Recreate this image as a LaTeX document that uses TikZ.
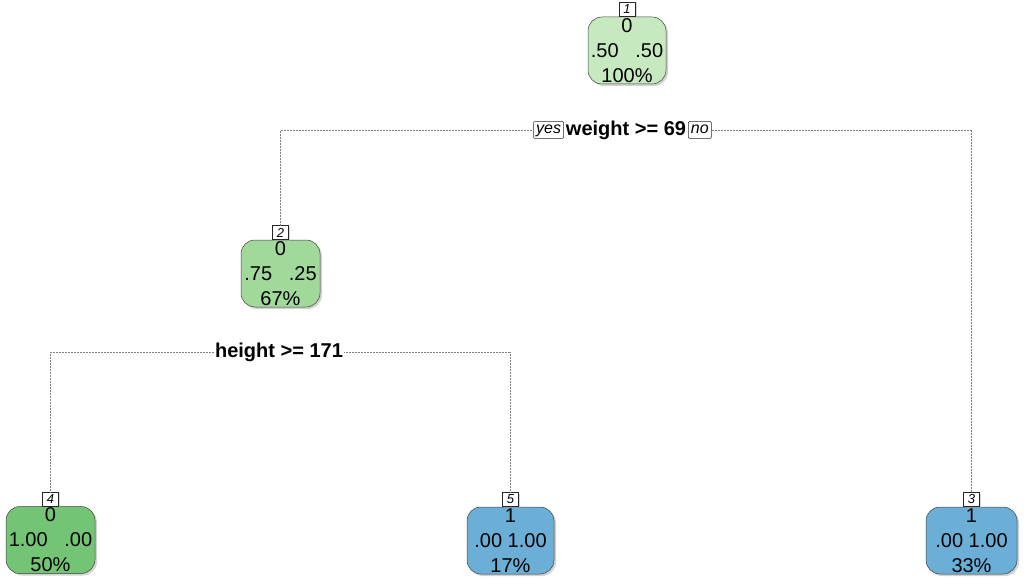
\documentclass[tikz,border=0pt]{standalone}
\usepackage{fontspec}
\setmainfont{Liberation Sans}
\usetikzlibrary{positioning,shadows}
\definecolor{greenA}{HTML}{C7E9C0}
\definecolor{greenB}{HTML}{A1D99B}
\definecolor{greenC}{HTML}{74C476}
\definecolor{blueA}{HTML}{6BAED6}
\tikzstyle{leaf} = [draw=black!75, line width=0.5pt, rounded corners=14pt, inner sep=0pt, minimum height=67pt, align=center, font=\fontsize{20}{25}\selectfont, drop shadow={shadow xshift=2pt, shadow yshift=-2pt, fill=black!35}]
\tikzstyle{num} = [draw=black!85, fill=white, line width=0.5pt, inner sep=0pt, minimum width=16pt, minimum height=14pt, font=\itshape\fontsize{13}{13}\selectfont, drop shadow={shadow xshift=1.5pt, shadow yshift=-1pt, fill=black!30}]
\tikzstyle{split} = [inner sep=1pt, font=\bfseries\fontsize{20}{20}\selectfont]
\tikzstyle{yesno} = [draw=black!85, fill=white, line width=0.5pt, rounded corners=1pt, inner xsep=2.5pt, inner ysep=1pt, text height=11.5pt, text depth=3.5pt, font=\itshape\fontsize{16}{16}\selectfont]
\tikzstyle{link} = [densely dotted, draw=black!50, line width=0.5pt]

\begin{document}
\begin{tikzpicture}[x=1pt,y=-1pt]
	  \useasboundingbox (0,0) rectangle (1027,588);

	  \node (n1) at (627,50.5) [leaf, fill=greenA, minimum width=78pt] {0\\.50\ \phantom{1}.50\\100\%};
	  \node (n2) at (280.5,273.5) [leaf, fill=greenB, minimum width=79pt] {0\\.75\ \phantom{1}.25\\67\%};
	  \node (n4) at (50.5,540) [leaf, fill=greenC, minimum width=89pt] {0\\1.00\ \phantom{1}.00\\50\%};
	  \node (n5) at (510.5,540.5) [leaf, fill=blueA, minimum width=87pt] {1\\.00\ 1.00\\17\%};
	  \node (n3) at (971.5,540.5) [leaf, fill=blueA, minimum width=91pt] {1\\.00\ 1.00\\33\%};

	  \node (l1) [num, above=0pt of n1] {1};
	  \node (l2) [num, above=0pt of n2] {2};
	  \node (l4) [num, above=0pt of n4] {4};
	  \node (l5) [num, above=0pt of n5] {5};
	  \node (l3) [num, above=0pt of n3] {3};

	  \node (s1) at (626,130) [split] {weight >= 69};
	  \node (yes1) [yesno, left=1pt of s1] {yes};
	  \node (no1) [yesno, right=1pt of s1] {no};
	  \node (s2) at (279,352) [split] {height >= 171};

	  \draw [link] (yes1.west) -| (l2.north);
	  \draw [link] (no1.east) -| (l3.north);
	  \draw [link] (s2.west) -| (l4.north);
	  \draw [link] (s2.east) -| (l5.north);
	\end{tikzpicture}
\end{document}
